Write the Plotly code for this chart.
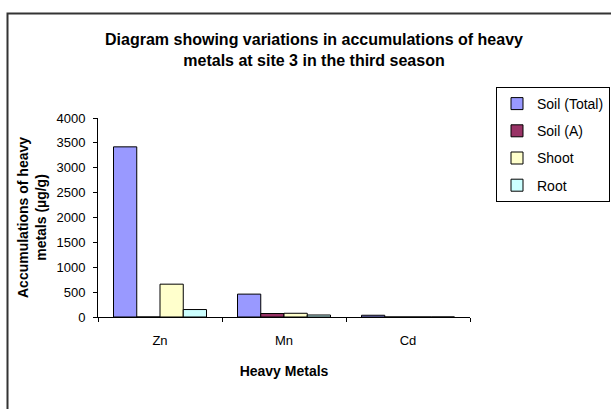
import plotly.graph_objects as go

metals = ["Zn", "Mn", "Cd"]
soil_total = [3420, 460, 35]
soil_a = [0, 70, 0]
shoot = [660, 75, 0]
root = [150, 40, 0]
y_ticks = [0, 500, 1000, 1500, 2000, 2500, 3000, 3500, 4000]

series = [
    ("Soil (Total)", soil_total, "#9999FF"),
    ("Soil (A)", soil_a, "#993366"),
    ("Shoot", shoot, "#FFFFCC"),
    ("Root", root, "#CCFFFF"),
]

W, H = 611, 409
L, R, T, B = 98, W - 470, 118, H - 317

fig = go.Figure()
for i, (name, vals, col) in enumerate(series):
    fig.add_trace(go.Bar(
        x=metals, y=vals, name=name, legendgroup=f"g{i}",
        marker=dict(color=col, line=dict(color="black", width=1)),
    ))

pw = W - L - R
ph = H - T - B
def px_x(p):
    return (p - L) / pw
def px_y(p):
    return (H - B - p) / ph

fig.update_layout(
    width=W, height=H,
    margin=dict(l=L, r=R, t=T, b=B, autoexpand=False),
    paper_bgcolor="white", plot_bgcolor="white",
    font=dict(family="Liberation Sans, Arial, sans-serif", color="black", size=13),
    barmode="group", bargap=0.25, bargroupgap=0,
    title=dict(
        text="<b>Diagram showing variations in accumulations of heavy<br>metals at site 3 in the third season</b>",
        x=314 / W, xref="container", xanchor="center",
        y=1 - 45 / H, yref="container", yanchor="top",
        font=dict(size=16),
    ),
    xaxis=dict(
        showline=True, linecolor="black", linewidth=1,
        ticks="outside", ticklen=4, tickcolor="black",
        tickson="boundaries", ticklabelstandoff=11,
        showgrid=False, zeroline=False,
        title=dict(text="<b>Heavy Metals</b>", font=dict(size=14), standoff=19),
        tickfont=dict(size=13),
    ),
    yaxis=dict(
        range=[0, 4000], tickvals=y_ticks,
        showline=True, linecolor="black", linewidth=1,
        ticks="outside", ticklen=4, tickcolor="black",
        showgrid=False, zeroline=False,
        ticklabelstandoff=5,
        title=dict(text="<b>Accumulations of heavy<br>metals (µg/g)</b>", font=dict(size=14), standoff=6),
        tickfont=dict(size=13),
    ),
    legend=dict(
        x=px_x(496), y=px_y(87), xanchor="left", yanchor="top",
        bordercolor="black", borderwidth=1, bgcolor="white",
        font=dict(size=14), tracegroupgap=6, itemwidth=30,
    ),
    shapes=[dict(
        type="rect", xref="paper", yref="paper",
        x0=px_x(7.5), x1=px_x(700), y0=px_y(500), y1=px_y(13.5),
        line=dict(color="#333333", width=2), fillcolor="rgba(0,0,0,0)", layer="below",
    )],
)

fig.write_html("out.html", config={"displayModeBar": False},
               post_script="document.body.style.margin='0';")
